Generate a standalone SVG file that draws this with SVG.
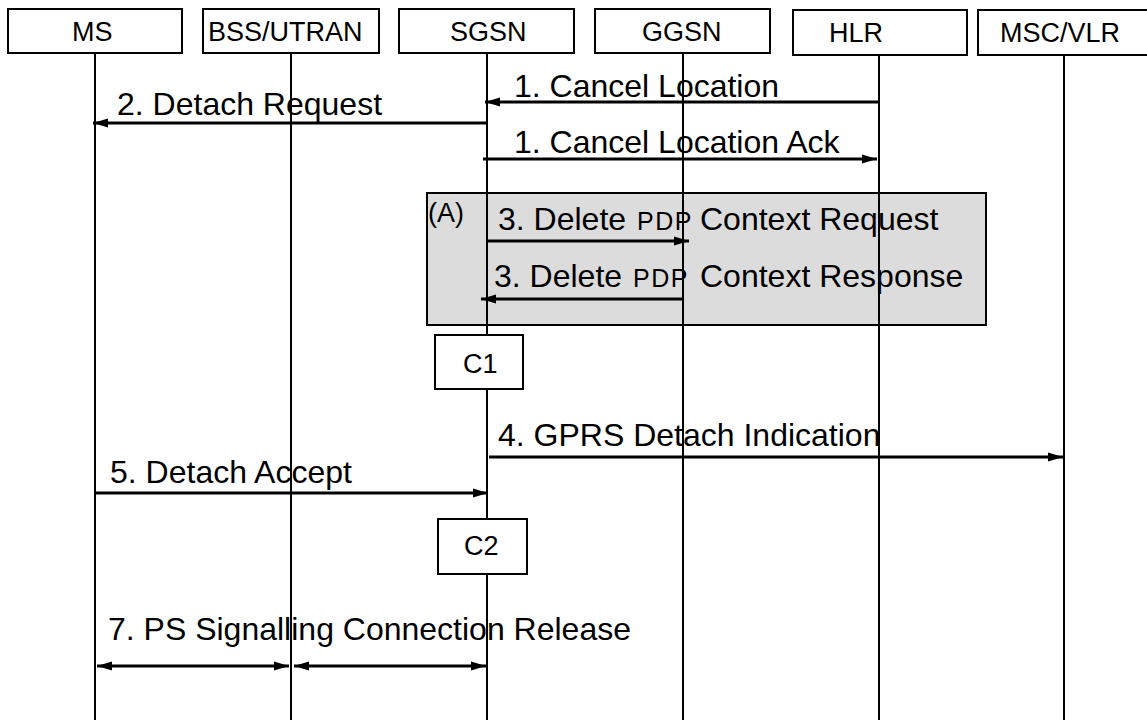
<svg xmlns="http://www.w3.org/2000/svg" width="1147" height="720" viewBox="0 0 1147 720">
<style>
.box{fill:#fff;stroke:#000;stroke-width:2}
.life{stroke:#000;stroke-width:2}
.hdr{font-family:"Liberation Sans",Arial,sans-serif;font-size:27px;fill:#000}
.lbl{font-family:"Liberation Sans",Arial,sans-serif;font-size:32px;fill:#000}
.small{font-size:25px;letter-spacing:1.5px}
.msg{stroke:#000;stroke-width:3;fill:none}
</style>
<defs>
<marker id="ah" markerUnits="userSpaceOnUse" markerWidth="16" markerHeight="10" refX="15" refY="5" orient="auto-start-reverse" viewBox="0 0 16 10">
<path d="M0,0.5 L15,5 L0,9.5 z" fill="#000"/>
</marker>
</defs>
<rect width="1147" height="720" fill="#fff"/>
<g id="groupA">
<rect x="427" y="193" width="559" height="132" fill="#dcdcdc" stroke="#000" stroke-width="2"/>
<text class="lbl" x="428" y="222" style="font-size:27px">(A)</text>
</g>
<g id="MS">
<rect class="box" x="8" y="9" width="174" height="44"/>
<line class="life" x1="95" y1="53" x2="95" y2="720"/>
<text class="hdr" x="72" y="41">MS</text>
</g>
<g id="BSS">
<rect class="box" x="203" y="9" width="176" height="44"/>
<line class="life" x1="291" y1="53" x2="291" y2="720"/>
<text class="hdr" x="208" y="41">BSS/UTRAN</text>
</g>
<g id="SGSN">
<rect class="box" x="399" y="9" width="175" height="44"/>
<line class="life" x1="487" y1="53" x2="487" y2="720"/>
<text class="hdr" x="450" y="41">SGSN</text>
</g>
<g id="GGSN">
<rect class="box" x="595" y="9" width="175" height="44"/>
<line class="life" x1="683" y1="53" x2="683" y2="720"/>
<text class="hdr" x="642" y="41">GGSN</text>
</g>
<g id="HLR">
<rect class="box" x="793" y="10" width="174" height="45"/>
<line class="life" x1="879" y1="55" x2="879" y2="720"/>
<text class="hdr" x="829" y="42">HLR</text>
</g>
<g id="MSCVLR">
<rect class="box" x="978" y="10" width="180" height="45"/>
<line class="life" x1="1064" y1="55" x2="1064" y2="720"/>
<text class="hdr" x="1000" y="42">MSC/VLR</text>
</g>
<g id="C1">
<rect class="box" x="435" y="335" width="88" height="54"/>
<text class="hdr" x="463" y="373">C1</text>
</g>
<g id="C2">
<rect class="box" x="438" y="519" width="89" height="55"/>
<text class="hdr" x="464" y="555">C2</text>
</g>
<g id="connectors">
<line class="msg" x1="879" y1="102" x2="485" y2="102" marker-end="url(#ah)"/>
<line class="msg" x1="487" y1="123" x2="93" y2="123" marker-end="url(#ah)"/>
<line class="msg" x1="483" y1="159" x2="877" y2="159" marker-end="url(#ah)"/>
<line class="msg" x1="487" y1="241" x2="689" y2="241" marker-end="url(#ah)"/>
<line class="msg" x1="683" y1="299" x2="481" y2="299" marker-end="url(#ah)"/>
<line class="msg" x1="489" y1="457" x2="1063" y2="457" marker-end="url(#ah)"/>
<line class="msg" x1="95" y1="493" x2="488" y2="493" marker-end="url(#ah)"/>
<line class="msg" x1="97" y1="666" x2="289" y2="666" marker-start="url(#ah)" marker-end="url(#ah)"/>
<line class="msg" x1="294" y1="666" x2="486" y2="666" marker-start="url(#ah)" marker-end="url(#ah)"/>
</g>
<g id="labels">
<text class="lbl" x="514" y="97">1. Cancel Location</text>
<text class="lbl" x="117" y="115">2. Detach Request</text>
<text class="lbl" x="514" y="153">1. Cancel Location Ack</text>
<text class="lbl" x="498" y="230">3. Delete <tspan class="small" x="637">PDP</tspan><tspan x="700">Context Request</tspan></text>
<text class="lbl" x="494" y="287">3. Delete <tspan class="small" x="633">PDP</tspan><tspan x="700">Context Response</tspan></text>
<text class="lbl" x="498" y="446">4. GPRS Detach Indication</text>
<text class="lbl" x="110" y="483">5. Detach Accept</text>
<text class="lbl" x="108" y="640">7. PS Signalling Connection Release</text>
</g>
</svg>
